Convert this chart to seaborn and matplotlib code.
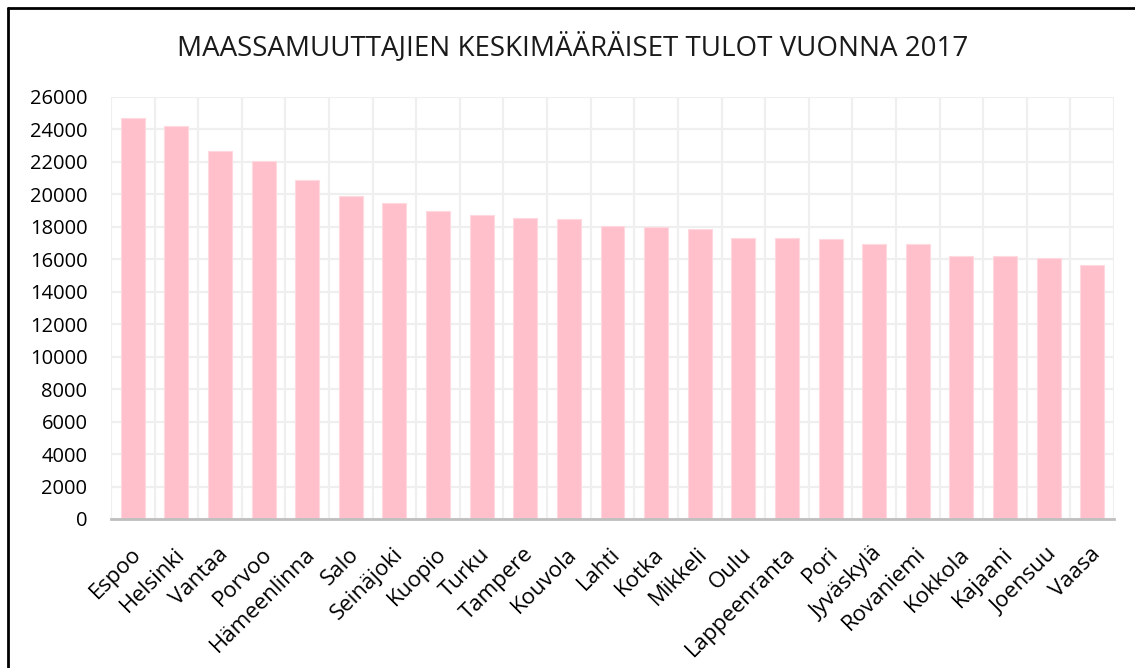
import matplotlib
matplotlib.use("Agg")
import matplotlib.pyplot as plt
import matplotlib.transforms as mtransforms
from matplotlib.lines import Line2D
import seaborn as sns
import pandas as pd

# Average income of immigrants by city, 2017
cities = ["Espoo", "Helsinki", "Vantaa", "Porvoo", "Hämeenlinna", "Salo",
          "Seinäjoki", "Kuopio", "Turku", "Tampere", "Kouvola", "Lahti",
          "Kotka", "Mikkeli", "Oulu", "Lappeenranta", "Pori", "Jyväskylä",
          "Rovaniemi", "Kokkola", "Kajaani", "Joensuu", "Vaasa"]
income = [24690, 24220, 22680, 22040, 20900, 19880,
          19460, 18950, 18700, 18520, 18480, 18030,
          17970, 17850, 17340, 17300, 17260, 16930,
          16930, 16210, 16180, 16110, 15680]
yticks = list(range(0, 26001, 2000))

df = pd.DataFrame({"city": cities, "income": income})

sns.set_theme(style="white")
plt.rcParams["font.family"] = ["Open Sans", "DejaVu Sans"]

fig = plt.figure(figsize=(11.35, 6.68), dpi=100)
ax = fig.add_axes([111 / 1135, 1 - 519 / 668, (1114 - 111) / 1135, (519 - 97) / 668])

sns.barplot(data=df, x="city", y="income", color="#ffc0cb", saturation=1,
            width=0.55, edgecolor="#ffd9e0", linewidth=0.8, ax=ax, zorder=3)

ax.set_ylim(0, 26000)
ax.set_xlim(-0.5, len(cities) - 0.5)
ax.set_yticks(yticks)
ax.set_yticklabels([str(v) for v in yticks], fontsize=14.5, color="black")
for v in yticks:
    ax.axhline(v, color="#efefef", lw=1.6, zorder=1)
for i in range(len(cities) + 1):
    ax.axvline(i - 0.5, color="#efefef", lw=1.6, zorder=1)

ax.set_xlabel("")
ax.set_ylabel("")
for side in ["top", "right", "left"]:
    ax.spines[side].set_visible(False)
ax.spines["bottom"].set_color("#bfbfbf")
ax.spines["bottom"].set_linewidth(2)
ax.spines["bottom"].set_zorder(4)
ax.tick_params(axis="y", length=0, pad=17)
ax.tick_params(axis="x", length=0, pad=23)

ax.set_xticks(range(len(cities)))
ax.set_xticklabels(cities, rotation=45, ha="right", va="center",
                   rotation_mode="anchor", fontsize=16, color="black")
offset = mtransforms.ScaledTranslation(5 / 100, 0, fig.dpi_scale_trans)
for lbl in ax.get_xticklabels():
    lbl.set_transform(lbl.get_transform() + offset)

fig.text(573 / 1135, 1 - 47 / 668, "MAASSAMUUTTAJIEN KESKIMÄÄRÄISET TULOT VUONNA 2017",
         ha="center", va="center", fontsize=20, color="#1a1a1a")

# frame lines of the original screenshot (top and left edges)
fig.add_artist(Line2D([8 / 1135, 1], [1 - 7.5 / 668, 1 - 7.5 / 668],
                      transform=fig.transFigure, color="black", lw=2))
fig.add_artist(Line2D([8 / 1135, 8 / 1135], [0, 1 - 7.5 / 668],
                      transform=fig.transFigure, color="black", lw=2))

fig.savefig("out.png", dpi=100)
